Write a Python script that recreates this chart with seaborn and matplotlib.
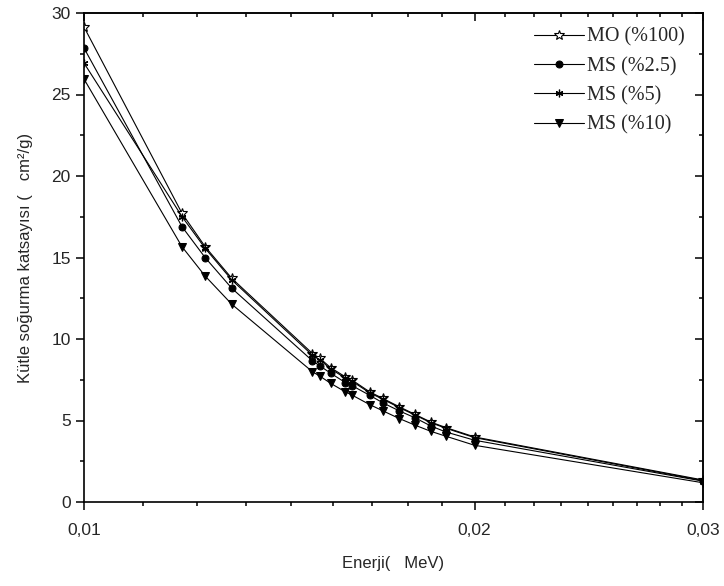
import numpy as np
import pandas as pd
import matplotlib
matplotlib.use('Agg')
import matplotlib.pyplot as plt
import seaborn as sns
from matplotlib.ticker import FixedLocator, NullFormatter, MultipleLocator

# energies (MeV) and mass attenuation coefficients (cm2/g)
energy = [0.0100, 0.0119, 0.0124, 0.0130, 0.0150, 0.0152, 0.0155, 0.0159, 0.0161,
          0.0166, 0.0170, 0.0175, 0.0180, 0.0185, 0.0190, 0.0200, 0.0300]
mo_100 = [29.14, 17.71, 15.66, 13.72, 9.11, 8.81, 8.23, 7.68, 7.47,
          6.76, 6.35, 5.84, 5.37, 4.91, 4.57, 3.99, 1.35]
ms_25 = [27.85, 16.89, 14.99, 13.11, 8.66, 8.35, 7.89, 7.33, 7.13,
         6.55, 6.08, 5.59, 5.16, 4.67, 4.30, 3.79, 1.28]
ms_5 = [26.93, 17.51, 15.56, 13.62, 9.00, 8.72, 8.15, 7.61, 7.40,
        6.70, 6.30, 5.79, 5.33, 4.87, 4.53, 3.95, 1.31]
ms_10 = [25.95, 15.66, 13.86, 12.13, 7.99, 7.72, 7.27, 6.76, 6.55,
         5.98, 5.59, 5.12, 4.71, 4.34, 4.04, 3.48, 1.18]

labels = ['MO (%100)', 'MS (%2.5)', 'MS (%5)', 'MS (%10)']
series = [mo_100, ms_25, ms_5, ms_10]

sns.set_theme(style='ticks')
plt.rcParams['font.family'] = ['Liberation Sans', 'DejaVu Sans']

fig = plt.figure(figsize=(7.24, 5.86), dpi=100)
ax = fig.add_axes([84 / 724, 1 - 502 / 586, (703 - 84) / 724, (502 - 13) / 586])

styles = [
    dict(marker='*', markersize=7.5, markerfacecolor='white', markeredgewidth=0.8),
    dict(marker='o', markersize=5),
    dict(marker=(6, 2, 0), markersize=5.5, markeredgewidth=0.9),
    dict(marker='v', markersize=5.5),
]
for lab, vals, st in zip(labels, series, styles):
    sns.lineplot(x=energy, y=vals, ax=ax, color='black', linewidth=0.8,
                 markeredgecolor='black', label=lab, **st)

ax.set_xscale('log')
ax.set_xlim(0.01, 0.03)
ax.set_ylim(0, 30)

major_x = [0.01, 0.02, 0.03]
minor_x = [0.01 + k * 0.01 / 9 for k in range(1, 9)] + [0.02 + k * 0.01 / 9 for k in range(1, 9)]
ax.xaxis.set_major_locator(FixedLocator(major_x))
ax.xaxis.set_minor_locator(FixedLocator(minor_x))
ax.set_xticklabels(['0,01', '0,02', '0,03'])
ax.xaxis.set_minor_formatter(NullFormatter())
ax.yaxis.set_major_locator(MultipleLocator(5))
ax.yaxis.set_minor_locator(MultipleLocator(2.5))

ax.tick_params(which='major', direction='out', length=6, width=1.1, labelsize=12.5, color='black')
ax.tick_params(axis='x', which='major', pad=9)
ax.tick_params(which='minor', direction='out', length=3, width=1.1, color='black')
for s in ax.spines.values():
    s.set_linewidth(1.2)
    s.set_color('black')

# mirrored ticks pointing inward on top and right
top = ax.secondary_xaxis('top')
top.xaxis.set_major_locator(FixedLocator(major_x))
top.xaxis.set_minor_locator(FixedLocator(minor_x))
top.xaxis.set_major_formatter(NullFormatter())
top.xaxis.set_minor_formatter(NullFormatter())
top.tick_params(which='major', direction='in', length=6, width=1.1, color='black')
top.tick_params(which='minor', direction='in', length=3, width=1.1, color='black')
top.spines['top'].set_linewidth(1.2)

right = ax.secondary_yaxis('right')
right.yaxis.set_major_locator(MultipleLocator(5))
right.yaxis.set_minor_locator(MultipleLocator(2.5))
right.yaxis.set_major_formatter(NullFormatter())
right.tick_params(which='major', direction='in', length=6, width=1.1, color='black')
right.tick_params(which='minor', direction='in', length=3, width=1.1, color='black')
right.spines['right'].set_linewidth(1.2)

ax.set_xlabel('Enerji(   MeV)', fontsize=12, labelpad=13)
ax.set_ylabel('Kütle soğurma katsayısı (   cm²/g)', fontsize=12, labelpad=13)

ax.legend(loc='upper right', bbox_to_anchor=(0.99, 0.995), frameon=False,
          prop={'family': 'Liberation Serif', 'size': 14.5}, handlelength=2.5,
          handletextpad=0.15, labelspacing=0.5, borderaxespad=0.2)

fig.savefig('out.png', dpi=100)
